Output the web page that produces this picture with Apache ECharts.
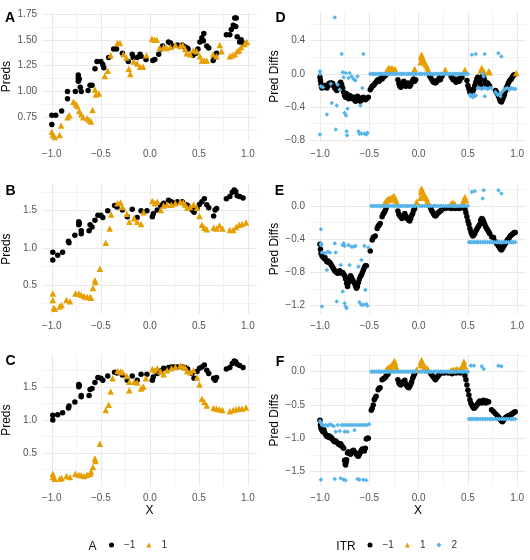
<!DOCTYPE html>
<html><head><meta charset="utf-8">
<script src="https://cdn.jsdelivr.net/npm/echarts@6/dist/echarts.min.js"></script>
<style>html,body{margin:0;padding:0;background:#fff}#c{width:530px;height:560px}</style>
</head><body><div id="c"></div>
<script>
// ---------- tick values / labels ----------
const xMajor = [-1, -0.5, 0, 0.5, 1];
const xMajorLabels = ['−1.0', '−0.5', '0.0', '0.5', '1.0'];
const xMinor = [-0.75, -0.25, 0.25, 0.75];

const yMajorA = [0.75, 1.0, 1.25, 1.5, 1.75];
const yLabelsA = ['0.75', '1.00', '1.25', '1.50', '1.75'];
const yMinorA = [0.625, 0.875, 1.125, 1.375, 1.625];

const yMajorBC = [0.5, 1.0, 1.5];
const yLabelsBC = ['0.5', '1.0', '1.5'];
const yMinorBC = [0.25, 0.75, 1.25, 1.75];

const yMajorD = [-0.8, -0.4, 0, 0.4];
const yLabelsD = ['−0.8', '−0.4', '0.0', '0.4'];
const yMinorD = [-0.6, -0.2, 0.2, 0.6];

const yMajorE = [-1.2, -0.8, -0.4, 0];
const yLabelsE = ['−1.2', '−0.8', '−0.4', '0.0'];
const yMinorE = [-1.0, -0.6, -0.2, 0.2];

const yMajorF = [-1.5, -1.0, -0.5, 0];
const yLabelsF = ['−1.5', '−1.0', '−0.5', '0.0'];
const yMinorF = [-1.25, -0.75, -0.25, 0.25];

const groupNames = ['−1', '1', '2'];

// ---------- Panel A ----------
const predsA_neg = [[-1.00,0.68],[-1.00,0.77],[-0.96,0.77],[-0.90,0.81],[-0.84,1.00],[-0.84,0.93],[-0.76,1.00],[-0.73,1.16],[-0.73,1.13],[-0.73,1.10],[-0.72,1.12],[-0.71,1.04],[-0.70,1.00],[-0.63,1.01],[-0.61,1.06],[-0.59,1.06],[-0.56,1.22],[-0.54,1.29],[-0.50,1.29],[-0.48,1.26],[-0.47,1.23],[-0.42,1.33],[-0.37,1.41],[-0.34,1.41],[-0.28,1.37],[-0.22,1.29],[-0.18,1.36],[-0.17,1.33],[-0.13,1.33],[-0.10,1.36],[-0.09,1.34],[-0.04,1.31],[0.03,1.30],[0.05,1.31],[0.09,1.36],[0.11,1.41],[0.13,1.44],[0.19,1.48],[0.21,1.47],[0.23,1.44],[0.28,1.45],[0.33,1.45],[0.36,1.43],[0.38,1.42],[0.39,1.41],[0.44,1.35],[0.47,1.37],[0.49,1.41],[0.51,1.48],[0.53,1.52],[0.55,1.56],[0.545,1.49],[0.58,1.44],[0.60,1.42],[0.645,1.30],[0.66,1.33],[0.68,1.37],[0.78,1.55],[0.815,1.55],[0.83,1.60],[0.85,1.64],[0.865,1.71],[0.88,1.71],[0.875,1.63],[0.89,1.53],[0.915,1.48],[0.93,1.50],[0.95,1.47]];
const predsA_pos = [[-1.00,0.61],[-0.99,0.58],[-0.97,0.56],[-0.92,0.58],[-0.905,0.67],[-0.84,0.75],[-0.82,0.77],[-0.78,0.90],[-0.755,0.88],[-0.74,0.86],[-0.72,0.81],[-0.70,0.78],[-0.68,0.75],[-0.64,0.74],[-0.62,0.725],[-0.60,0.71],[-0.585,0.82],[-0.56,1.02],[-0.55,0.97],[-0.52,0.98],[-0.46,1.15],[-0.43,1.20],[-0.40,1.35],[-0.33,1.47],[-0.305,1.47],[-0.27,1.36],[-0.24,1.33],[-0.215,1.22],[-0.20,1.17],[-0.164,1.29],[-0.13,1.27],[-0.10,1.24],[-0.07,1.24],[-0.035,1.35],[0.02,1.51],[0.045,1.50],[0.07,1.50],[0.10,1.42],[0.14,1.43],[0.17,1.42],[0.21,1.43],[0.26,1.45],[0.31,1.44],[0.335,1.45],[0.36,1.41],[0.375,1.37],[0.41,1.36],[0.443,1.40],[0.477,1.39],[0.51,1.34],[0.53,1.30],[0.555,1.30],[0.58,1.30],[0.645,1.36],[0.68,1.34],[0.713,1.45],[0.73,1.39],[0.815,1.34],[0.84,1.35],[0.865,1.36],[0.89,1.39],[0.91,1.40],[0.93,1.43],[0.965,1.46],[0.99,1.48]];

// ---------- Panel B ----------
const predsB_neg = [[-0.99,0.835],[-0.99,0.94],[-0.94,0.90],[-0.89,0.94],[-0.83,1.09],[-0.825,1.07],[-0.765,1.17],[-0.725,1.35],[-0.725,1.31],[-0.72,1.33],[-0.70,1.19],[-0.70,1.23],[-0.62,1.23],[-0.61,1.31],[-0.59,1.28],[-0.56,1.37],[-0.53,1.44],[-0.50,1.44],[-0.48,1.41],[-0.43,1.50],[-0.36,1.57],[-0.335,1.55],[-0.28,1.51],[-0.23,1.42],[-0.18,1.52],[-0.13,1.41],[-0.09,1.50],[-0.03,1.50],[0.025,1.42],[0.035,1.46],[0.075,1.51],[0.11,1.57],[0.14,1.60],[0.19,1.64],[0.22,1.62],[0.245,1.60],[0.28,1.62],[0.33,1.62],[0.36,1.585],[0.385,1.57],[0.43,1.51],[0.45,1.48],[0.48,1.53],[0.505,1.585],[0.53,1.62],[0.555,1.66],[0.58,1.58],[0.60,1.54],[0.65,1.43],[0.665,1.51],[0.68,1.53],[0.78,1.66],[0.815,1.69],[0.84,1.75],[0.86,1.78],[0.875,1.76],[0.89,1.70],[0.915,1.69],[0.95,1.67]];
const predsB_pos = [[-0.99,0.385],[-0.99,0.30],[-0.98,0.19],[-0.97,0.18],[-0.92,0.21],[-0.90,0.23],[-0.85,0.30],[-0.815,0.28],[-0.76,0.385],[-0.725,0.385],[-0.70,0.37],[-0.67,0.35],[-0.64,0.34],[-0.61,0.34],[-0.60,0.33],[-0.58,0.46],[-0.56,0.565],[-0.555,0.54],[-0.51,0.72],[-0.45,1.07],[-0.41,1.26],[-0.395,1.45],[-0.33,1.60],[-0.30,1.61],[-0.28,1.55],[-0.235,1.46],[-0.21,1.35],[-0.16,1.40],[-0.13,1.35],[-0.09,1.32],[-0.066,1.48],[0.025,1.63],[0.05,1.60],[0.075,1.62],[0.11,1.51],[0.14,1.57],[0.175,1.585],[0.22,1.58],[0.26,1.60],[0.31,1.62],[0.34,1.61],[0.36,1.585],[0.38,1.54],[0.41,1.55],[0.445,1.585],[0.48,1.54],[0.505,1.43],[0.53,1.31],[0.555,1.27],[0.58,1.25],[0.65,1.27],[0.68,1.26],[0.71,1.30],[0.74,1.26],[0.815,1.24],[0.85,1.24],[0.88,1.28],[0.91,1.31],[0.94,1.32],[0.98,1.34]];

// ---------- Panel C ----------
const predsC_neg = [[-0.99,1.00],[-0.99,1.07],[-0.94,1.08],[-0.89,1.11],[-0.83,1.18],[-0.825,1.21],[-0.765,1.27],[-0.725,1.535],[-0.725,1.50],[-0.72,1.52],[-0.70,1.37],[-0.70,1.35],[-0.62,1.37],[-0.61,1.46],[-0.59,1.475],[-0.56,1.565],[-0.53,1.64],[-0.50,1.63],[-0.48,1.60],[-0.43,1.665],[-0.36,1.72],[-0.335,1.71],[-0.28,1.68],[-0.23,1.60],[-0.18,1.665],[-0.13,1.60],[-0.09,1.69],[-0.03,1.69],[0.025,1.60],[0.035,1.65],[0.075,1.70],[0.11,1.74],[0.14,1.78],[0.19,1.79],[0.22,1.80],[0.245,1.80],[0.28,1.80],[0.33,1.80],[0.36,1.79],[0.385,1.77],[0.43,1.70],[0.45,1.63],[0.48,1.73],[0.505,1.78],[0.53,1.80],[0.555,1.83],[0.58,1.75],[0.60,1.70],[0.65,1.63],[0.665,1.60],[0.68,1.64],[0.78,1.77],[0.815,1.79],[0.84,1.85],[0.86,1.89],[0.875,1.88],[0.89,1.84],[0.915,1.82],[0.95,1.79]];
const predsC_pos = [[-0.99,0.19],[-0.99,0.14],[-0.97,0.115],[-0.92,0.115],[-0.90,0.125],[-0.85,0.155],[-0.815,0.14],[-0.76,0.19],[-0.725,0.175],[-0.70,0.165],[-0.67,0.155],[-0.64,0.175],[-0.61,0.19],[-0.60,0.225],[-0.58,0.29],[-0.56,0.42],[-0.555,0.38],[-0.51,0.64],[-0.45,1.15],[-0.42,1.23],[-0.40,1.43],[-0.38,1.63],[-0.33,1.74],[-0.30,1.73],[-0.28,1.72],[-0.235,1.665],[-0.21,1.45],[-0.21,1.575],[-0.16,1.575],[-0.13,1.565],[-0.09,1.475],[-0.066,1.50],[-0.04,1.63],[0.025,1.77],[0.05,1.75],[0.075,1.78],[0.11,1.73],[0.14,1.69],[0.175,1.75],[0.22,1.78],[0.26,1.80],[0.31,1.82],[0.34,1.80],[0.36,1.79],[0.38,1.74],[0.41,1.72],[0.445,1.75],[0.48,1.64],[0.505,1.535],[0.53,1.32],[0.555,1.27],[0.58,1.22],[0.65,1.18],[0.68,1.17],[0.71,1.16],[0.74,1.15],[0.815,1.13],[0.85,1.15],[0.88,1.16],[0.91,1.17],[0.94,1.17],[0.98,1.19]];

// ---------- Panel D ----------
const diffD_neg = [[-1.00,-0.04],[-0.995,-0.08],[-0.99,-0.12],[-0.985,-0.15],[-0.98,-0.17],[-0.97,-0.15],[-0.96,-0.16],[-0.95,-0.14],[-0.94,-0.15],[-0.93,-0.17],[-0.92,-0.15],[-0.91,-0.12],[-0.90,-0.11],[-0.89,-0.12],[-0.88,-0.11],[-0.87,-0.12],[-0.86,-0.15],[-0.85,-0.17],[-0.84,-0.18],[-0.83,-0.20],[-0.82,-0.19],[-0.81,-0.16],[-0.80,-0.12],[-0.79,-0.10],[-0.78,-0.13],[-0.77,-0.17],[-0.76,-0.22],[-0.75,-0.26],[-0.74,-0.28],[-0.73,-0.24],[-0.72,-0.27],[-0.71,-0.30],[-0.70,-0.26],[-0.69,-0.27],[-0.68,-0.29],[-0.67,-0.30],[-0.66,-0.28],[-0.65,-0.31],[-0.64,-0.33],[-0.63,-0.29],[-0.62,-0.27],[-0.61,-0.28],[-0.60,-0.32],[-0.59,-0.33],[-0.58,-0.31],[-0.57,-0.29],[-0.56,-0.28],[-0.55,-0.30],[-0.54,-0.31],[-0.53,-0.30],[-0.52,-0.29],[-0.51,-0.28],[-0.49,-0.19],[-0.48,-0.17],[-0.47,-0.15],[-0.46,-0.14],[-0.45,-0.13],[-0.44,-0.11],[-0.43,-0.10],[-0.42,-0.08],[-0.41,-0.07],[-0.40,-0.09],[-0.39,-0.06],[-0.38,-0.05],[-0.37,-0.06],[-0.36,-0.04],[-0.35,-0.03],[-0.34,-0.02],[-0.33,-0.01],[-0.21,-0.07],[-0.20,-0.12],[-0.19,-0.15],[-0.18,-0.16],[-0.17,-0.14],[-0.16,-0.10],[-0.15,-0.09],[-0.14,-0.12],[-0.13,-0.15],[-0.12,-0.14],[-0.11,-0.11],[-0.10,-0.12],[-0.09,-0.15],[-0.08,-0.13],[-0.07,-0.10],[-0.06,-0.08],[-0.05,-0.06],[-0.04,-0.09],[-0.03,-0.07],[0.11,-0.02],[0.12,-0.04],[0.13,-0.06],[0.14,-0.08],[0.15,-0.10],[0.16,-0.09],[0.17,-0.11],[0.18,-0.10],[0.19,-0.08],[0.20,-0.07],[0.21,-0.05],[0.22,-0.07],[0.23,-0.04],[0.24,-0.02],[0.33,-0.03],[0.34,-0.05],[0.35,-0.07],[0.36,-0.06],[0.37,-0.08],[0.38,-0.10],[0.39,-0.08],[0.40,-0.06],[0.41,-0.09],[0.42,-0.07],[0.43,-0.05],[0.44,-0.04],[0.49,-0.08],[0.50,-0.14],[0.51,-0.18],[0.52,-0.22],[0.53,-0.20],[0.54,-0.23],[0.55,-0.21],[0.56,-0.18],[0.57,-0.14],[0.58,-0.10],[0.59,-0.06],[0.60,-0.04],[0.61,-0.05],[0.62,-0.09],[0.63,-0.13],[0.64,-0.05],[0.65,-0.02],[0.66,-0.04],[0.67,-0.08],[0.68,-0.12],[0.69,-0.14],[0.70,-0.11],[0.71,-0.13],[0.72,-0.15],[0.78,-0.20],[0.79,-0.22],[0.80,-0.24],[0.81,-0.27],[0.82,-0.30],[0.83,-0.33],[0.84,-0.34],[0.85,-0.31],[0.86,-0.28],[0.87,-0.25],[0.88,-0.21],[0.89,-0.17],[0.90,-0.14],[0.91,-0.11],[0.92,-0.09],[0.93,-0.07],[0.94,-0.06],[0.95,-0.04],[0.96,-0.02],[0.97,-0.01]];
const diffD_one = [[-0.33,0.02],[-0.32,0.04],[-0.31,0.06],[-0.30,0.07],[-0.29,0.06],[-0.28,0.05],[-0.27,0.07],[-0.26,0.05],[-0.25,0.04],[-0.24,0.06],[-0.23,0.03],[-0.04,0.06],[0.02,0.14],[0.025,0.20],[0.03,0.23],[0.035,0.21],[0.04,0.18],[0.05,0.16],[0.06,0.14],[0.07,0.12],[0.08,0.10],[0.09,0.07],[0.10,0.04],[0.27,0.05],[0.47,0.05],[0.63,0.04],[0.64,0.07],[0.65,0.05],[0.66,0.03],[0.71,0.03],[0.72,0.02],[0.99,0.01]];
const diffD_two = [[-1.00,0.03],[-1.00,0.00],[-0.99,-0.15],[-0.97,-0.16],[-1.00,-0.73],[-0.93,-0.49],[-0.88,-0.35],[-0.85,0.68],[-0.84,-0.67],[-0.83,-0.38],[-0.80,-0.19],[-0.78,0.24],[-0.77,0.02],[-0.76,-0.04],[-0.75,-0.47],[-0.74,0.01],[-0.735,-0.50],[-0.73,-0.69],[-0.725,-0.74],[-0.72,-0.42],[-0.71,-0.05],[-0.70,0.01],[-0.68,-0.03],[-0.66,-0.06],[-0.64,-0.08],[-0.62,-0.03],[-0.61,-0.69],[-0.60,-0.72],[-0.59,-0.38],[-0.58,-0.72],[-0.57,-0.17],[-0.56,0.24],[-0.55,-0.72],[-0.53,-0.73],[-0.52,-0.71],[-0.89,-0.12],[-0.82,-0.13],
  [-0.49,0],[-0.47,0],[-0.455,0],[-0.44,0],[-0.42,0],[-0.40,0],[-0.385,0],[-0.37,0],[-0.35,0],[-0.33,0],[-0.315,0],[-0.30,0],[-0.28,0],[-0.26,0],[-0.245,0],[-0.23,0],[-0.21,0],[-0.19,0],[-0.175,0],[-0.16,0],[-0.14,0],[-0.12,0],[-0.105,0],[-0.09,0],[-0.07,0],[-0.05,0],[-0.035,0],[-0.02,0],[0.01,0],[0.025,0],[0.04,0],[0.06,0],[0.08,0],[0.095,0],[0.11,0],[0.13,0],[0.15,0],[0.165,0],[0.18,0],[0.20,0],[0.22,0],[0.235,0],[0.25,0],[0.27,0],[0.29,0],[0.305,0],[0.32,0],[0.34,0],[0.36,0],[0.375,0],[0.39,0],[0.41,0],[0.43,0],[0.445,0],[0.46,0],[0.48,0],[0.50,0],
  [0.52,-0.25],[0.53,-0.27],[0.54,-0.26],[0.55,-0.28],[0.56,-0.25],[0.57,-0.27],[0.58,-0.26],[0.60,-0.17],[0.62,-0.17],[0.64,-0.18],[0.66,-0.17],[0.67,-0.27],[0.68,-0.17],[0.70,-0.18],[0.72,-0.17],[0.74,-0.17],[0.78,-0.22],[0.80,-0.25],[0.82,-0.24],[0.83,-0.27],[0.84,-0.23],[0.86,-0.20],[0.88,-0.18],[0.90,-0.17],[0.92,-0.19],[0.94,-0.17],[0.96,-0.18],[0.98,-0.18],[0.54,0.23],[0.58,0.24],[0.67,0.24],[0.81,0.25],[0.84,0.21],[0.65,0.00],[0.66,-0.03]];

// ---------- Panel E ----------
const diffE_neg = [[-1.00,-0.46],[-0.995,-0.52],[-0.99,-0.57],[-0.98,-0.60],[-0.97,-0.61],[-0.96,-0.63],[-0.95,-0.62],[-0.94,-0.65],[-0.93,-0.67],[-0.92,-0.66],[-0.91,-0.68],[-0.90,-0.68],[-0.89,-0.70],[-0.88,-0.72],[-0.87,-0.74],[-0.86,-0.76],[-0.85,-0.78],[-0.84,-0.79],[-0.83,-0.80],[-0.82,-0.81],[-0.81,-0.79],[-0.80,-0.78],[-0.79,-0.80],[-0.78,-0.81],[-0.77,-0.80],[-0.76,-0.82],[-0.75,-0.84],[-0.74,-0.88],[-0.73,-0.93],[-0.72,-0.97],[-0.71,-0.92],[-0.70,-0.86],[-0.69,-0.84],[-0.68,-0.86],[-0.67,-0.89],[-0.66,-0.91],[-0.65,-0.93],[-0.64,-0.96],[-0.63,-0.99],[-0.62,-0.97],[-0.61,-0.92],[-0.60,-0.88],[-0.59,-0.85],[-0.58,-0.83],[-0.57,-0.80],[-0.56,-0.77],[-0.55,-0.74],[-0.54,-0.72],[-0.53,-0.72],[-0.49,-0.54],[-0.47,-0.41],[-0.46,-0.38],[-0.45,-0.37],[-0.44,-0.36],[-0.42,-0.27],[-0.41,-0.24],[-0.40,-0.23],[-0.39,-0.21],[-0.37,-0.13],[-0.36,-0.10],[-0.35,-0.08],[-0.34,-0.06],[-0.33,-0.03],[-0.21,-0.06],[-0.20,-0.10],[-0.19,-0.12],[-0.18,-0.13],[-0.17,-0.15],[-0.16,-0.12],[-0.14,-0.09],[-0.13,-0.12],[-0.12,-0.15],[-0.11,-0.14],[-0.10,-0.17],[-0.09,-0.18],[-0.08,-0.15],[-0.07,-0.11],[-0.06,-0.09],[-0.05,-0.05],[-0.04,-0.03],[0.12,-0.02],[0.13,-0.05],[0.14,-0.07],[0.15,-0.09],[0.16,-0.11],[0.17,-0.12],[0.18,-0.11],[0.19,-0.09],[0.20,-0.08],[0.21,-0.07],[0.22,-0.06],[0.23,-0.05],[0.25,-0.03],[0.27,-0.03],[0.29,-0.02],[0.31,-0.02],[0.33,-0.03],[0.35,-0.02],[0.37,-0.03],[0.39,-0.02],[0.41,-0.03],[0.43,-0.02],[0.46,-0.02],[0.47,-0.04],[0.48,-0.08],[0.49,-0.13],[0.50,-0.18],[0.51,-0.22],[0.52,-0.27],[0.53,-0.31],[0.54,-0.34],[0.55,-0.36],[0.56,-0.35],[0.57,-0.33],[0.58,-0.30],[0.59,-0.28],[0.60,-0.26],[0.61,-0.24],[0.62,-0.22],[0.63,-0.17],[0.64,-0.15],[0.65,-0.16],[0.66,-0.19],[0.67,-0.22],[0.68,-0.25],[0.69,-0.27],[0.70,-0.29],[0.71,-0.31],[0.72,-0.33],[0.74,-0.37],[0.76,-0.38],[0.78,-0.43],[0.79,-0.45],[0.80,-0.46],[0.81,-0.48],[0.82,-0.50],[0.83,-0.52],[0.84,-0.53],[0.85,-0.51],[0.86,-0.49],[0.87,-0.47],[0.88,-0.45],[0.89,-0.43],[0.90,-0.41],[0.91,-0.40],[0.92,-0.38],[0.93,-0.36],[0.94,-0.35],[0.95,-0.34],[0.96,-0.33],[0.97,-0.32],[0.98,-0.32]];
const diffE_one = [[-0.35,0.02],[-0.34,0.04],[-0.33,0.06],[-0.32,0.07],[-0.31,0.08],[-0.30,0.09],[-0.29,0.08],[-0.28,0.09],[-0.27,0.10],[-0.26,0.11],[-0.25,0.12],[-0.24,0.10],[-0.23,0.07],[-0.22,0.04],[-0.02,0.05],[0.02,0.10],[0.025,0.17],[0.03,0.21],[0.035,0.19],[0.04,0.17],[0.05,0.14],[0.06,0.13],[0.07,0.11],[0.08,0.09],[0.09,0.06],[0.10,0.03],[0.33,0.03],[0.35,0.04],[0.37,0.02],[0.45,0.05],[0.46,0.08],[0.47,0.11],[0.48,0.07]];
const diffE_two = [[-0.99,-0.28],[-0.99,-0.45],[-0.99,-0.47],[-0.98,-0.56],[-0.98,-1.21],[-0.95,-0.57],[-0.93,-0.77],[-0.92,-0.55],[-0.90,-0.56],[-0.85,-0.45],[-0.84,-0.56],[-0.83,-1.15],[-0.79,-0.71],[-0.77,-0.47],[-0.77,-1.03],[-0.76,-0.45],[-0.75,-0.48],[-0.75,-1.17],[-0.74,-1.21],[-0.73,-1.23],[-0.71,-0.47],[-0.70,-0.71],[-0.68,-0.49],[-0.66,-0.49],[-0.64,-0.48],[-0.61,-0.73],[-0.60,-1.16],[-0.58,-0.65],[-0.58,-1.19],[-0.56,-1.19],[-0.55,-0.48],[-0.54,-1.01],[-0.53,-1.18],[-0.52,-1.20],[-0.51,-0.50],
  [-0.48,0],[-0.465,0],[-0.45,0],[-0.43,0],[-0.41,0],[-0.395,0],[-0.38,0],[-0.36,0],[-0.34,0],[-0.325,0],[-0.31,0],[-0.29,0],[-0.27,0],[-0.255,0],[-0.24,0],[-0.22,0],[-0.20,0],[-0.185,0],[-0.17,0],[-0.15,0],[-0.13,0],[-0.115,0],[-0.10,0],[-0.08,0],[-0.06,0],[-0.045,0],[-0.03,0],[0.01,0],[0.025,0],[0.04,0],[0.06,0],[0.08,0],[0.095,0],[0.11,0],[0.13,0],[0.15,0],[0.165,0],[0.18,0],[0.20,0],[0.22,0],[0.235,0],[0.25,0],[0.27,0],[0.29,0],[0.305,0],[0.32,0],[0.34,0],[0.36,0],[0.375,0],[0.39,0],[0.41,0],[0.43,0],[0.445,0],[0.46,0],[0.48,0],[0.50,0],
  [0.51,-0.435],[0.525,-0.435],[0.54,-0.435],[0.56,-0.435],[0.58,-0.435],[0.595,-0.435],[0.61,-0.435],[0.63,-0.435],[0.65,-0.435],[0.665,-0.435],[0.68,-0.435],[0.70,-0.435],[0.72,-0.435],[0.735,-0.435],[0.75,-0.435],[0.77,-0.435],[0.79,-0.435],[0.805,-0.435],[0.82,-0.435],[0.84,-0.435],[0.86,-0.435],[0.875,-0.435],[0.89,-0.435],[0.91,-0.435],[0.93,-0.435],[0.945,-0.435],[0.96,-0.435],[0.98,-0.435],
  [0.54,0.17],[0.57,0.18],[0.66,0.19],[0.65,0.09],[0.81,0.19],[0.84,0.15]];

// ---------- Panel F ----------
const diffF_neg = [[-1.00,-0.73],[-0.995,-0.80],[-0.99,-0.85],[-0.98,-0.88],[-0.97,-0.90],[-0.96,-0.87],[-0.95,-0.92],[-0.94,-0.95],[-0.93,-0.97],[-0.92,-0.98],[-0.91,-0.96],[-0.90,-0.99],[-0.89,-0.98],[-0.88,-1.00],[-0.87,-1.02],[-0.86,-1.04],[-0.85,-1.05],[-0.84,-1.04],[-0.83,-1.06],[-0.82,-1.07],[-0.81,-1.09],[-0.80,-1.10],[-0.79,-1.08],[-0.78,-1.11],[-0.77,-1.13],[-0.76,-1.15],[-0.75,-1.33],[-0.745,-1.38],[-0.74,-1.40],[-0.735,-1.36],[-0.73,-1.32],[-0.72,-1.22],[-0.71,-1.20],[-0.70,-1.22],[-0.69,-1.24],[-0.68,-1.21],[-0.67,-1.19],[-0.66,-1.18],[-0.65,-1.20],[-0.64,-1.22],[-0.63,-1.24],[-0.62,-1.26],[-0.61,-1.27],[-0.60,-1.24],[-0.59,-1.21],[-0.58,-1.18],[-0.57,-1.16],[-0.56,-1.17],[-0.55,-1.19],[-0.54,-1.15],[-0.53,-1.01],[-0.52,-1.00],[-0.51,-1.00],[-0.48,-0.58],[-0.47,-0.55],[-0.46,-0.50],[-0.45,-0.42],[-0.44,-0.39],[-0.43,-0.37],[-0.41,-0.27],[-0.40,-0.25],[-0.39,-0.24],[-0.37,-0.12],[-0.36,-0.11],[-0.35,-0.10],[-0.34,-0.09],[-0.33,-0.07],[-0.32,-0.05],[-0.31,-0.03],[-0.21,-0.12],[-0.20,-0.17],[-0.19,-0.19],[-0.18,-0.20],[-0.17,-0.18],[-0.16,-0.15],[-0.14,-0.13],[-0.13,-0.18],[-0.12,-0.21],[-0.11,-0.23],[-0.10,-0.24],[-0.09,-0.22],[-0.08,-0.19],[-0.07,-0.15],[-0.06,-0.10],[-0.05,-0.06],[-0.04,-0.03],[0.12,-0.02],[0.13,-0.04],[0.14,-0.06],[0.15,-0.08],[0.16,-0.10],[0.17,-0.12],[0.18,-0.10],[0.19,-0.08],[0.20,-0.06],[0.21,-0.04],[0.22,-0.03],[0.26,-0.02],[0.30,-0.02],[0.34,-0.03],[0.38,-0.02],[0.42,-0.02],[0.46,-0.02],[0.47,-0.06],[0.48,-0.12],[0.49,-0.20],[0.50,-0.28],[0.51,-0.35],[0.52,-0.42],[0.53,-0.47],[0.54,-0.50],[0.55,-0.53],[0.56,-0.55],[0.57,-0.54],[0.58,-0.52],[0.59,-0.50],[0.60,-0.48],[0.61,-0.46],[0.62,-0.44],[0.63,-0.45],[0.64,-0.47],[0.65,-0.44],[0.66,-0.43],[0.67,-0.45],[0.68,-0.47],[0.69,-0.44],[0.70,-0.46],[0.71,-0.45],[0.74,-0.57],[0.76,-0.60],[0.78,-0.63],[0.80,-0.66],[0.81,-0.68],[0.82,-0.70],[0.83,-0.72],[0.84,-0.74],[0.85,-0.75],[0.86,-0.73],[0.87,-0.71],[0.88,-0.69],[0.89,-0.68],[0.90,-0.67],[0.91,-0.66],[0.92,-0.66],[0.93,-0.65],[0.94,-0.64],[0.95,-0.63],[0.96,-0.62],[0.97,-0.61],[0.98,-0.60]];
const diffF_one = [[-0.33,0.02],[-0.32,0.04],[-0.31,0.05],[-0.30,0.06],[-0.29,0.07],[-0.28,0.08],[-0.27,0.10],[-0.26,0.12],[-0.25,0.14],[-0.245,0.16],[-0.24,0.13],[-0.23,0.08],[-0.22,0.04],[-0.02,0.03],[0.02,0.10],[0.025,0.15],[0.03,0.17],[0.035,0.15],[0.04,0.12],[0.05,0.10],[0.06,0.08],[0.07,0.06],[0.08,0.05],[0.09,0.04],[0.10,0.02],[0.33,0.02],[0.35,0.03],[0.37,0.03],[0.39,0.04],[0.41,0.03],[0.43,0.05],[0.44,0.06],[0.45,0.10],[0.46,0.15],[0.47,0.08]];
const diffF_two = [[-1.00,-0.74],[-0.99,-0.77],[-0.98,-0.80],[-0.96,-0.81],[-0.94,-0.80],[-0.92,-0.81],[-0.90,-0.79],[-0.88,-0.80],[-0.86,-0.82],[-0.84,-0.90],[-0.82,-0.80],[-0.80,-0.89],[-0.78,-0.80],[-0.76,-0.80],[-0.74,-0.80],[-0.72,-0.80],[-0.70,-0.80],[-0.68,-0.80],[-0.66,-0.80],[-0.64,-0.80],[-0.62,-0.80],[-0.60,-0.80],[-0.58,-0.80],[-0.56,-0.80],[-0.54,-0.80],[-0.52,-0.80],[-0.50,-0.79],[-0.75,-0.90],[-0.72,-0.90],[-0.65,-0.88],
  [-0.99,-1.62],[-0.85,-1.61],[-0.79,-1.60],[-0.76,-1.62],[-0.74,-1.63],[-0.62,-1.61],[-0.60,-1.62],[-0.56,-1.62],[-0.53,-1.63],
  [-0.48,0],[-0.465,0],[-0.45,0],[-0.43,0],[-0.41,0],[-0.395,0],[-0.38,0],[-0.36,0],[-0.34,0],[-0.325,0],[-0.31,0],[-0.29,0],[-0.27,0],[-0.255,0],[-0.24,0],[-0.22,0],[-0.20,0],[-0.185,0],[-0.17,0],[-0.15,0],[-0.13,0],[-0.115,0],[-0.10,0],[-0.08,0],[-0.06,0],[-0.045,0],[-0.03,0],[0.01,0],[0.025,0],[0.04,0],[0.06,0],[0.08,0],[0.095,0],[0.11,0],[0.13,0],[0.15,0],[0.165,0],[0.18,0],[0.20,0],[0.22,0],[0.235,0],[0.25,0],[0.27,0],[0.29,0],[0.305,0],[0.32,0],[0.34,0],[0.36,0],[0.375,0],[0.39,0],[0.41,0],[0.43,0],[0.445,0],[0.46,0],[0.48,0],[0.50,0],
  [0.51,-0.71],[0.525,-0.71],[0.54,-0.71],[0.56,-0.71],[0.58,-0.71],[0.595,-0.71],[0.61,-0.71],[0.63,-0.71],[0.65,-0.71],[0.665,-0.71],[0.68,-0.71],[0.70,-0.71],[0.72,-0.71],[0.735,-0.71],[0.75,-0.71],[0.77,-0.71],[0.79,-0.71],[0.805,-0.71],[0.82,-0.71],[0.84,-0.71],[0.86,-0.71],[0.875,-0.71],[0.89,-0.71],[0.91,-0.71],[0.93,-0.71],[0.945,-0.71],[0.96,-0.71],[0.98,-0.71],
  [0.53,0.09],[0.56,0.09],[0.64,0.08],[0.66,0.04],[0.81,0.09],[0.84,0.08]];

// ---------- layout ----------
const FONT = 'Liberation Sans, Arial, sans-serif';
const COL = {neg: '#000000', one: '#E69F00', two: '#56B4E9'};
const colLeft = [40.8, 310.1];
const colWidth = 216;
const rows = [[11.4, 130.4], [184.1, 129.9], [354, 132.3]];

const panels = [
  {tag: 'A', col: 0, row: 0, yMin: 0.513, yMax: 1.775, maj: yMajorA, lab: yLabelsA, min: yMinorA, title: 'Preds', series: [predsA_neg, predsA_pos]},
  {tag: 'B', col: 0, row: 1, yMin: 0.11, yMax: 1.858, maj: yMajorBC, lab: yLabelsBC, min: yMinorBC, title: 'Preds', series: [predsB_neg, predsB_pos]},
  {tag: 'C', col: 0, row: 2, yMin: 0.0, yMax: 1.995, maj: yMajorBC, lab: yLabelsBC, min: yMinorBC, title: 'Preds', series: [predsC_neg, predsC_pos]},
  {tag: 'D', col: 1, row: 0, yMin: -0.818, yMax: 0.753, maj: yMajorD, lab: yLabelsD, min: yMinorD, title: 'Pred Diffs', series: [diffD_neg, diffD_one, diffD_two]},
  {tag: 'E', col: 1, row: 1, yMin: -1.30, yMax: 0.264, maj: yMajorE, lab: yLabelsE, min: yMinorE, title: 'Pred Diffs', series: [diffE_neg, diffE_one, diffE_two]},
  {tag: 'F', col: 1, row: 2, yMin: -1.72, yMax: 0.265, maj: yMajorF, lab: yLabelsF, min: yMinorF, title: 'Pred Diffs', series: [diffF_neg, diffF_one, diffF_two]}
];

function fmt(vals, labels) {
  return function (v) {
    for (let i = 0; i < vals.length; i++) if (Math.abs(v - vals[i]) < 1e-6) return labels[i];
    return '';
  };
}
function gridSpec(maj, minr) {
  const all = maj.concat(minr).sort((a, b) => a - b);
  const firstMajor = maj.some(m => Math.abs(m - all[0]) < 1e-9);
  const c = firstMajor ? ['#E9E9E9', '#F2F2F2'] : ['#F2F2F2', '#E9E9E9'];
  return {all, colors: c};
}

const grids = [], xAxes = [], yAxes = [], series = [], graphics = [];
const symbols = [
  {symbol: 'circle', size: 5.5, color: COL.neg},
  {symbol: 'triangle', size: 6.5, color: COL.one},
  {symbol: 'diamond', size: 4.6, color: COL.two}
];

panels.forEach((p, i) => {
  const top = rows[p.row][0], h = rows[p.row][1];
  grids.push({left: colLeft[p.col], top: top, width: colWidth, height: h, containLabel: false});
  const xg = gridSpec(xMajor, xMinor);
  xAxes.push({
    type: 'value', gridIndex: i, min: -1.1, max: 1.09,
    axisLine: {show: false}, axisTick: {show: false, customValues: xg.all},
    axisLabel: {customValues: xMajor, formatter: fmt(xMajor, xMajorLabels), margin: 7, fontSize: 10, color: '#555555', fontFamily: FONT},
    splitLine: {show: true, lineStyle: {color: xg.colors, width: 1}},
    name: p.row === 2 ? 'X' : '', nameLocation: 'middle', nameGap: 18,
    nameTextStyle: {fontSize: 12, color: '#000', fontFamily: FONT}
  });
  const yg = gridSpec(p.maj, p.min);
  yAxes.push({
    type: 'value', gridIndex: i, min: p.yMin, max: p.yMax,
    axisLine: {show: false}, axisTick: {show: false, customValues: yg.all},
    axisLabel: {customValues: p.maj, formatter: fmt(p.maj, p.lab), margin: 5, fontSize: 10, color: '#555555', fontFamily: FONT},
    splitLine: {show: true, lineStyle: {color: yg.colors, width: 1}},
    name: p.title, nameLocation: 'middle', nameRotate: 90, nameGap: 29,
    nameTextStyle: {fontSize: 12, color: '#000', fontFamily: FONT}
  });
  p.series.forEach((d, k) => {
    series.push({
      type: 'scatter', name: groupNames[k], xAxisIndex: i, yAxisIndex: i,
      data: d, symbol: symbols[k].symbol, symbolSize: symbols[k].size, symbolKeepAspect: true,
      itemStyle: {color: symbols[k].color, opacity: 1}, silent: true
    });
  });
});

const tagPos = {A: [10, 18], B: [10.5, 191], C: [10.5, 361.5], D: [280.5, 18.5], E: [279.5, 191], F: [280, 361.7]};
panels.forEach(p => {
  graphics.push({type: 'text', x: tagPos[p.tag][0], y: tagPos[p.tag][1], z: 100,
    style: {text: p.tag, fontSize: 14, fontWeight: 'bold', fontFamily: FONT, fill: '#000', align: 'center', verticalAlign: 'middle'}});
});
graphics.push({type: 'text', x: 92.5, y: 546.5, style: {text: 'A', fontSize: 12, fontFamily: FONT, fill: '#111', align: 'center', verticalAlign: 'middle'}});
graphics.push({type: 'text', x: 346, y: 546.5, style: {text: 'ITR', fontSize: 12, fontFamily: FONT, fill: '#111', align: 'center', verticalAlign: 'middle'}});

const legendBase = {orient: 'horizontal', top: 540, itemWidth: 5, itemHeight: 5, itemGap: 11, selectedMode: false,
  textStyle: {fontSize: 10, color: '#333', fontFamily: FONT, padding: [0, 0, 0, 5]}, padding: 0};

const chart = echarts.init(document.getElementById('c'), null, {renderer: 'canvas'});
chart.setOption({
  animation: false,
  backgroundColor: '#fff',
  textStyle: {fontFamily: FONT},
  grid: grids, xAxis: xAxes, yAxis: yAxes, series: series,
  legend: [
    Object.assign({}, legendBase, {left: 109, data: ['−1', '1']}),
    Object.assign({}, legendBase, {left: 367.5, data: ['−1', '1', '2']})
  ],
  graphic: graphics
});
</script></body></html>
